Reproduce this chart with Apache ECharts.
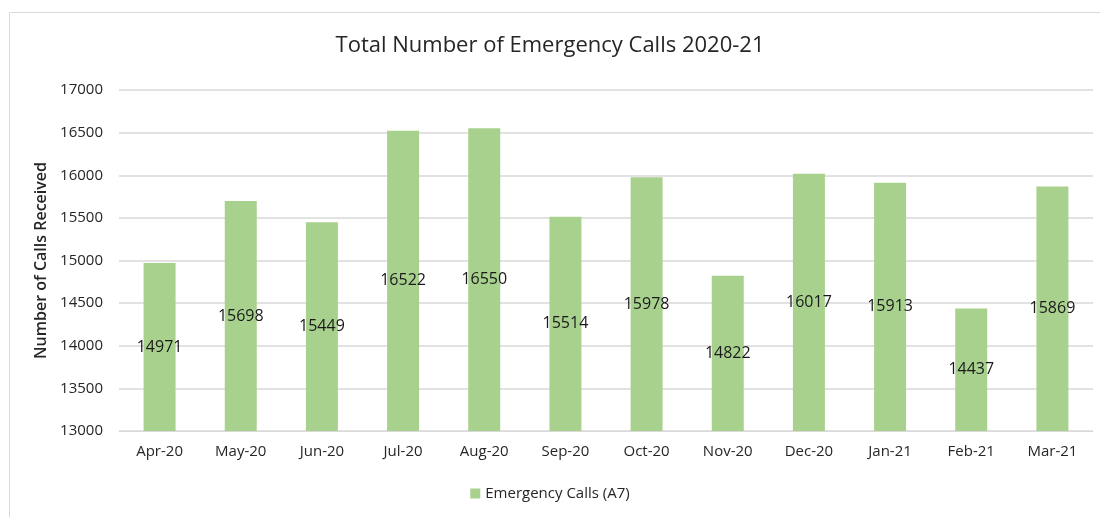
<!DOCTYPE html>
<html><head><meta charset="utf-8">
<script src="https://cdn.jsdelivr.net/npm/echarts@6/dist/echarts.min.js"></script>
<style>html,body{margin:0;padding:0;background:#fff}#c{width:1100px;height:517px}</style>
</head><body><div id="c"></div>
<script>
const categories = ["Apr-20","May-20","Jun-20","Jul-20","Aug-20","Sep-20","Oct-20","Nov-20","Dec-20","Jan-21","Feb-21","Mar-21"];
const calls = [14971,15698,15449,16522,16550,15514,15978,14822,16017,15913,14437,15869];
const seriesName = "Emergency Calls (A7)";
const titleText = "Total Number of Emergency Calls 2020-21";
const yAxisName = "Number of Calls Received";
const yMin = 13000, yMax = 17000, yStep = 500;

const font = "'Open Sans', 'Liberation Sans', sans-serif";
const chart = echarts.init(document.getElementById('c'));
chart.setOption({
  animation: false,
  graphic: [{type:'rect', shape:{x:9.5,y:12.5,width:1200,height:600}, style:{fill:'none', stroke:'#d9d9d9', lineWidth:1}}],
  title: {text: titleText, left: 'center', top: 30, textStyle:{fontFamily: font, fontSize: 22, fontWeight: 'normal', color: '#262626'}},
  legend: {bottom: 11, left: 'center', itemWidth: 10, itemHeight: 10, icon: 'rect', itemGap: 6, textStyle:{fontFamily: font, fontSize: 15, color:'#262626'}},
  grid: {left: 119, right: 7, top: 90, bottom: 86},
  xAxis: {type:'category', data: categories, axisTick:{show:false}, axisLine:{lineStyle:{color:'#d9d9d9'}},
    axisLabel:{fontFamily: font, fontSize: 15, color:'#262626', margin: 13}},
  yAxis: {type:'value', min: yMin, max: yMax, interval: yStep, name: yAxisName, nameLocation:'middle', nameGap: 62,
    nameTextStyle:{fontFamily: font, fontSize: 16, fontWeight: 600, color:'#262626'},
    axisLabel:{fontFamily: font, fontSize: 15, color:'#262626', margin: 16, formatter: v => String(v)},
    splitLine:{lineStyle:{color:'#d9d9d9', width: 1.5}}},
  series: [{name: seriesName, type:'bar', data: calls, barWidth: 32, itemStyle:{color:'#a9d18e'},
    label:{show:true, position:'inside', fontFamily: font, fontSize: 16, color:'#1a1a1a'}}]
});
</script></body></html>
